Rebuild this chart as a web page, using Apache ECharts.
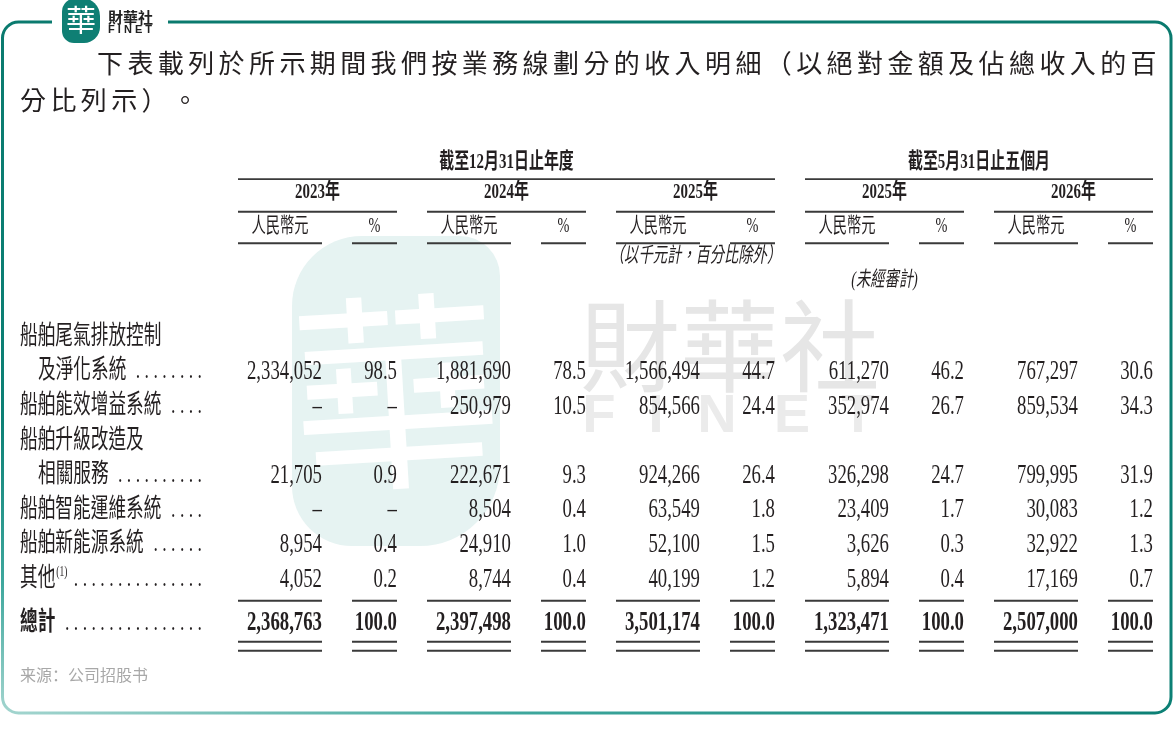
<!DOCTYPE html>
<html>
<head>
<meta charset="utf-8">
<title>按業務線劃分的收入明細</title>
<script src="https://cdn.jsdelivr.net/npm/echarts@6/dist/echarts.min.js"></script>
<style>
  html, body { margin: 0; padding: 0; background: #fff; }
  #main { width: 1175px; height: 736px; }
</style>
</head>
<body>
<div id="main"></div>
<script>
// 期間
var periods = ['2023年', '2024年', '2025年', '2025年', '2026年'];
var periodGroups = ['截至12月31日止年度', '截至5月31日止五個月'];
var groupSpans = [[0, 2], [3, 4]];
var unitLabels = ['人民幣元', '%'];
var notes = ['（以千元計，百分比除外）', '(未經審計)'];
var notePeriods = [2, 3];

// 業務線
var rowLabels = [
    ['船舶尾氣排放控制', '及淨化系統'],
    ['船舶能效增益系統'],
    ['船舶升級改造及', '相關服務'],
    ['船舶智能運維系統'],
    ['船舶新能源系統'],
    ['其他'],
    ['總計']
];
var footnotes = [null, null, null, null, null, '(1)', null];

// 人民幣千元 / 佔總收入%
var amt2023 = [2334052, null, 21705, null, 8954, 4052, 2368763];
var pct2023 = [98.5, null, 0.9, null, 0.4, 0.2, 100.0];
var amt2024 = [1881690, 250979, 222671, 8504, 24910, 8744, 2397498];
var pct2024 = [78.5, 10.5, 9.3, 0.4, 1.0, 0.4, 100.0];
var amt2025 = [1566494, 854566, 924266, 63549, 52100, 40199, 3501174];
var pct2025 = [44.7, 24.4, 26.4, 1.8, 1.5, 1.2, 100.0];
var amt5m2025 = [611270, 352974, 326298, 23409, 3626, 5894, 1323471];
var pct5m2025 = [46.2, 26.7, 24.7, 1.7, 0.3, 0.4, 100.0];
var amt5m2026 = [767297, 859534, 799995, 30083, 32922, 17169, 2507000];
var pct5m2026 = [30.6, 34.3, 31.9, 1.2, 1.3, 0.7, 100.0];

var amounts = [amt2023, amt2024, amt2025, amt5m2025, amt5m2026];
var percents = [pct2023, pct2024, pct2025, pct5m2025, pct5m2026];

var titleLines = [
    '下表載列於所示期間我們按業務線劃分的收入明細（以絕對金額及佔總收入的百',
    '分比列示）。'
];
var sourceText = '来源：公司招股书';

// ---- 版面 ----
var INK = '#231f20';
var RULE = '#3a3a3a';
var SERIF = '"Liberation Serif", "Noto Sans CJK TC", serif';
var SX = 0.68;          // 原表字體偏窄
var NUM_SX = 0.67;
var BAND = 189;         // 每個期間的寬度
var COL = { half: 79.5, amtW: 84, pctL: 114, w: 159 };
var LABEL_OFF = 203, INDENT = 18, DOTS_OFF = 21;
// 表頭各行 (以行為單位, 0 = 第一行業務線)
var HEAD = { group: -5.06, rule1: -4.56, year: -4.18, rule2: -3.62, unit: -3.19, rule3: -2.71, note1: -2.34, note2: -1.62 };
var TOTAL_GAP = 0.27;

var lineOfRow = [];
var labelItems = [];
var ln = 0;
rowLabels.forEach(function (lines, r) {
    if (r === rowLabels.length - 1) ln += TOTAL_GAP;
    lines.forEach(function (t, k) {
        labelItems.push([0, ln + k, r, k]);
    });
    ln += lines.length;
    lineOfRow.push(ln - 1);
});

var measureCtx = document.createElement('canvas').getContext('2d');
function textW(s, font, sx) {
    measureCtx.font = font;
    return measureCtx.measureText(s).width * sx;
}

function txt(x, y, s, font, align, sx) {
    return {
        type: 'text', x: x, y: y, scaleX: sx,
        style: { text: s, fill: INK, font: font, align: align, verticalAlign: 'middle' }
    };
}

function rule(x1, x2, y, w) {
    return {
        type: 'line',
        shape: { x1: x1, y1: y, x2: x2, y2: y },
        style: { stroke: RULE, lineWidth: w || 1.8 }
    };
}

function colGeo(cx, api) {
    var k = api.size([1, 0])[0] / BAND;
    var left = cx - COL.half * k;
    return { left: left, amtRight: left + COL.amtW * k, pctLeft: left + COL.pctL * k, right: left + COL.w * k };
}

function renderCell(params, api) {
    var c = api.coord([api.value(0), api.value(1)]);
    var g = colGeo(c[0], api);
    var isTotal = params.dataIndex === rowLabels.length - 1;
    var font = (isTotal ? 'bold ' : '') + '28px ' + SERIF;
    var a = api.value(2), p = api.value(3);
    var children = [
        txt(g.amtRight, c[1], (a == null || isNaN(a)) ? '–' : echarts.format.addCommas(a), font, 'right', NUM_SX),
        txt(g.right, c[1], (p == null || isNaN(p)) ? '–' : p.toFixed(1), font, 'right', NUM_SX)
    ];
    if (isTotal) {
        var v = api.value(1);
        [v - 0.65, v + 0.54, v + 0.80].forEach(function (rv) {
            var y = api.coord([0, rv])[1];
            children.push(rule(g.left, g.amtRight, y, 2));
            children.push(rule(g.pctLeft, g.right, y, 2));
        });
    }
    return { type: 'group', children: children };
}

function renderLabel(params, api) {
    var y = api.coord([0, api.value(1)])[1];
    var r = api.value(2), k = api.value(3);
    var lines = rowLabels[r];
    var isTotal = r === rowLabels.length - 1;
    var baseFont = '26px ' + SERIF;
    var font = (isTotal ? 'bold ' : '') + baseFont;
    var x = params.coordSys.x - LABEL_OFF + (k > 0 ? INDENT : 0);
    var s = lines[k];
    var children = [txt(x, y, s, font, 'left', SX)];
    var end = x + textW(s, font, SX);
    if (k === lines.length - 1) {
        if (footnotes[r]) {
            var supFont = '14px ' + SERIF;
            children.push(txt(end + 1, y - 7, footnotes[r], supFont, 'left', SX));
            end += 1 + textW(footnotes[r], supFont, SX);
        }
        var dotsRight = params.coordSys.x - DOTS_OFF;
        var half = textW('. ', baseFont, SX) / 2;
        var n = Math.floor(((dotsRight - end - 4) / half + 1) / 2);
        var dots = new Array(n).fill('.').join(' ');
        children.push(txt(dotsRight, y, dots, baseFont, 'right', SX));
    }
    return { type: 'group', children: children };
}

function renderHead(params, api) {
    var i = api.value(0);
    var c = api.coord([i, HEAD.year]);
    var g = colGeo(c[0], api);
    var y = function (v) { return api.coord([i, v])[1]; };
    var unitFont = '21px ' + SERIF;
    return {
        type: 'group',
        children: [
            txt(c[0], y(HEAD.year), periods[i], 'bold 22px ' + SERIF, 'center', SX),
            rule(g.left, g.right, y(HEAD.rule2)),
            txt((g.left + g.amtRight) / 2, y(HEAD.unit), unitLabels[0], unitFont, 'center', SX),
            txt((g.pctLeft + g.right) / 2, y(HEAD.unit), unitLabels[1], unitFont, 'center', SX),
            rule(g.left, g.amtRight, y(HEAD.rule3)),
            rule(g.pctLeft, g.right, y(HEAD.rule3))
        ]
    };
}

function renderGroupHead(params, api) {
    var a = colGeo(api.coord([api.value(0), 0])[0], api);
    var b = colGeo(api.coord([api.value(2), 0])[0], api);
    var yT = api.coord([0, api.value(1)])[1];
    var yR = api.coord([0, HEAD.rule1])[1];
    return {
        type: 'group',
        children: [
            txt((a.left + b.right) / 2, yT, periodGroups[params.dataIndex], 'bold 22px ' + SERIF, 'center', SX),
            rule(a.left, b.right, yR)
        ]
    };
}

function renderNote(params, api) {
    var c = api.coord([api.value(0), api.value(1)]);
    return txt(c[0], c[1], notes[params.dataIndex], 'italic 21px ' + SERIF, 'center', SX);
}

// ---- 裝飾：外框、標誌、水印 ----
var graphics = [];
graphics.push({
    type: 'rect', z: 0,
    shape: { x: 2.5, y: 22, width: 1168.5, height: 691, r: 16 },
    style: {
        fill: 'none', lineWidth: 3,
        stroke: new echarts.graphic.LinearGradient(0, 1, 0.15, 0, [
            { offset: 0, color: '#a6d6d0' },
            { offset: 0.18, color: '#3ea79d' },
            { offset: 0.4, color: '#0c8075' },
            { offset: 1, color: '#0a7a6e' }
        ])
    }
});
graphics.push({ type: 'rect', z: 1, shape: { x: 52, y: 12, width: 116, height: 20 }, style: { fill: '#fff' } });
graphics.push({ type: 'rect', z: 2, shape: { x: 62, y: -2, width: 38, height: 45, r: [14, 18, 16, 12] }, style: { fill: '#0f7f74' } });
graphics.push({ type: 'text', z: 3, x: 81, y: 20, style: { text: '華', fill: '#fff', font: '30px "Noto Sans CJK TC"', align: 'center', verticalAlign: 'middle' } });
graphics.push({ type: 'text', z: 3, x: 108, y: 17, style: { text: '財華社', fill: '#222', font: 'bold 15px "Noto Sans CJK TC"', align: 'left', verticalAlign: 'middle' } });
graphics.push({ type: 'text', z: 3, x: 108, y: 30, style: { text: 'F I N E T', fill: '#222', font: 'bold 11px "Liberation Sans"', align: 'left', verticalAlign: 'middle' } });

// 水印
graphics.push({ type: 'rect', z: 0, shape: { x: 292, y: 236, width: 208, height: 310, r: [70, 40, 80, 60] }, style: { fill: '#e6f3f2' } });
graphics.push({ type: 'text', z: 0, x: 396, y: 392, rotation: 0.06, style: { text: '華', fill: '#ffffff', font: '210px "Noto Sans CJK TC"', align: 'center', verticalAlign: 'middle' } });
graphics.push({ type: 'text', z: 0, x: 580, y: 346, style: { text: '財華社', fill: '#e6e6e6', font: '100px "Noto Sans CJK TC"', align: 'left', verticalAlign: 'middle' } });
['F', 'I', 'N', 'E', 'T'].forEach(function (ch, i) {
    graphics.push({ type: 'text', z: 0, x: [599, 656, 717, 792, 858][i], y: 417, style: { text: ch, fill: '#ebebeb', font: 'bold 54px "Liberation Sans"', align: 'center', verticalAlign: 'middle' } });
});

// 標題 (逐字排)
titleLines.forEach(function (line, li) {
    var x0 = li === 0 ? 97 : 20;
    var y0 = li === 0 ? 63 : 100;
    line.split('').forEach(function (ch, i) {
        graphics.push({ type: 'text', z: 3, x: x0 + i * 30.4, y: y0, style: { text: ch, fill: INK, font: '26px "Noto Sans CJK TC"', align: 'left', verticalAlign: 'middle' } });
    });
});
graphics.push({ type: 'text', z: 3, x: 20, y: 675, style: { text: sourceText, fill: '#a8a8a8', font: '16px "Noto Sans CJK SC"', align: 'left', verticalAlign: 'middle' } });

// ---- 圖表 ----
var myChart = echarts.init(document.getElementById('main'));

var series = [
    {
        type: 'custom', name: 'labels',
        data: labelItems,
        renderItem: renderLabel
    },
    {
        type: 'custom', name: 'periods',
        data: periods.map(function (p, i) { return [i, HEAD.year]; }),
        renderItem: renderHead
    },
    {
        type: 'custom', name: 'groups',
        data: groupSpans.map(function (s) { return [s[0], HEAD.group, s[1]]; }),
        renderItem: renderGroupHead
    },
    {
        type: 'custom', name: 'notes',
        data: notePeriods.map(function (p, i) { return [p, i === 0 ? HEAD.note1 : HEAD.note2]; }),
        renderItem: renderNote
    }
];
periods.forEach(function (p, i) {
    series.push({
        type: 'custom', name: p,
        data: rowLabels.map(function (_, r) {
            return [i, lineOfRow[r], amounts[i][r], percents[i][r]];
        }),
        renderItem: renderCell
    });
});

option = {
    animation: false,
    backgroundColor: '#fff',
    grid: { left: 223, right: 7, top: 129.4, bottom: 53 },
    xAxis: { type: 'category', data: periods, show: false },
    yAxis: { type: 'value', inverse: true, min: -6, max: 10, show: false },
    graphic: graphics,
    series: series
};

myChart.setOption(option);
</script>
</body>
</html>
